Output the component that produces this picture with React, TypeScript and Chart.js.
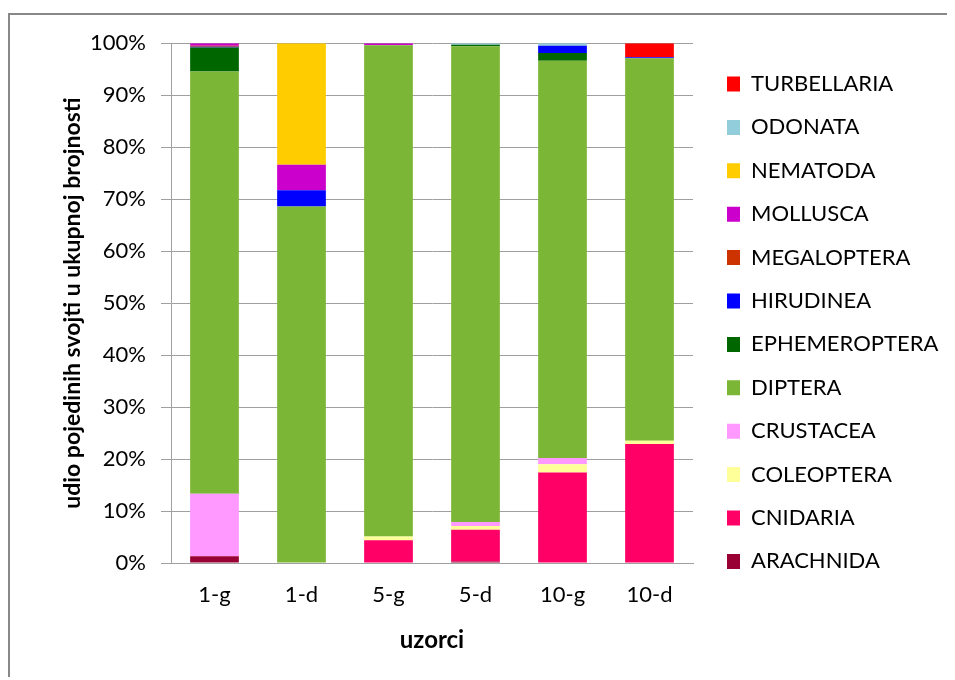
import React, { useEffect, useRef } from "react";
import { Chart, registerables } from "chart.js";

Chart.register(...registerables);

const categories = ["1-g", "1-d", "5-g", "5-d", "10-g", "10-d"];

const arachnida = [1.3, 0, 0, 0.3, 0, 0];
const cnidaria = [0, 0, 4.4, 6.1, 17.4, 22.9];
const coleoptera = [0, 0, 0.7, 0.7, 1.6, 0.6];
const crustacea = [12.0, 0, 0, 0.8, 1.2, 0];
const diptera = [81.25, 68.6, 94.5, 91.5, 76.4, 73.6];
const ephemeroptera = [4.6, 0, 0, 0.3, 1.5, 0];
const hirudinea = [0.15, 3.1, 0, 0, 1.4, 0.2];
const megaloptera = [0.2, 0, 0, 0, 0, 0];
const mollusca = [0.5, 4.9, 0.4, 0, 0, 0];
const nematoda = [0, 23.4, 0, 0, 0, 0];
const odonata = [0, 0, 0, 0.3, 0.5, 0];
const turbellaria = [0, 0, 0, 0, 0, 2.7];

const seriesNames = [
  "ARACHNIDA", "CNIDARIA", "COLEOPTERA", "CRUSTACEA", "DIPTERA", "EPHEMEROPTERA",
  "HIRUDINEA", "MEGALOPTERA", "MOLLUSCA", "NEMATODA", "ODONATA", "TURBELLARIA",
];
const seriesValues = [
  arachnida, cnidaria, coleoptera, crustacea, diptera, ephemeroptera,
  hirudinea, megaloptera, mollusca, nematoda, odonata, turbellaria,
];
const seriesColors = [
  "#990033", "#FF0066", "#FFFF99", "#FF99FF", "#7CB636", "#006600",
  "#0000FF", "#CC3300", "#CC00CC", "#FFCC00", "#92CDDC", "#FF0000",
];

const yTitle = "udio pojedinih svojti u ukupnoj brojnosti";
const xTitle = "uzorci";

const FONT = "Lato, 'Open Sans', sans-serif";
const W = 945;
const H = 655;
const LEGEND_FS = 22;
const LEGEND_PAD = 21.4;
const BOX_W = 13;
const LEGEND_LEFT = 695.6;
const GAP_AXIS = 12.6;

export default function App() {
  const ref = useRef<HTMLCanvasElement | null>(null);

  useEffect(() => {
    if (!ref.current) return;
    document.documentElement.style.overflow = "hidden";
    document.body.style.overflow = "hidden";

    const mctx = document.createElement("canvas").getContext("2d")!;
    mctx.font = `normal ${LEGEND_FS}px ${FONT}`;
    const maxText = Math.max(...seriesNames.map((n) => mctx.measureText(n).width));
    const legendWidth = LEGEND_PAD + BOX_W + LEGEND_FS / 2 + maxText + 10;
    const padR = Math.max(0, W - LEGEND_LEFT - legendWidth);

    const chart = new Chart(ref.current, {
      type: "bar",
      data: {
        labels: categories,
        datasets: seriesNames.map((name, i) => ({
          label: name,
          data: seriesValues[i],
          backgroundColor: seriesColors[i],
          borderWidth: 0,
          categoryPercentage: 1,
          barPercentage: 0.56,
        })),
      },
      options: {
        animation: false,
        responsive: false,
        maintainAspectRatio: false,
        layout: { padding: { top: 28, left: 0, right: padR, bottom: 0 } },
        plugins: {
          tooltip: { enabled: false },
          legend: {
            position: "right",
            align: "start",
            reverse: true,
            maxWidth: legendWidth,
            title: { display: true, text: "", font: { size: 1, lineHeight: 1 }, padding: { top: 0, bottom: 7.6 } },
            labels: {
              boxWidth: BOX_W,
              boxHeight: 15,
              padding: LEGEND_PAD,
              color: "#000",
              font: { family: FONT, size: LEGEND_FS },
            },
          },
        },
        scales: {
          x: {
            stacked: true,
            grid: { display: false, drawTicks: false },
            border: { display: true, color: "#a0a0a0", width: 1 },
            ticks: { color: "#000", font: { family: FONT, size: 22 }, padding: 19 },
            title: {
              display: true,
              text: xTitle,
              color: "#000",
              font: { family: FONT, size: 24, weight: "bold" },
              padding: { top: 0, bottom: 15.6 },
            },
            afterFit: (s: any) => { s.height = 107; },
          },
          y: {
            stacked: true,
            min: 0,
            max: 100,
            grid: { color: "#a0a0a0", lineWidth: 1, tickLength: 10, drawTicks: true },
            border: { display: true, color: "#a0a0a0", width: 1 },
            ticks: {
              stepSize: 10,
              color: "#000",
              padding: 15,
              font: { family: FONT, size: 22 },
              callback: (v: any) => v + "%",
            },
            title: {
              display: true,
              text: yTitle,
              color: "#000",
              font: { family: FONT, size: 23, weight: "bold" },
              padding: { top: 49.2, bottom: 0 },
            },
            afterFit: (s: any) => { s.width = 161; },
          },
          y2: {
            position: "right",
            display: true,
            grid: { display: false, drawTicks: false },
            border: { display: false },
            ticks: { display: false },
            afterFit: (s: any) => { s.width = GAP_AXIS; },
          },
        },
      },
    });
    return () => chart.destroy();
  }, []);

  return (
    <div
      style={{
        position: "relative",
        top: 5,
        width: W,
        height: 667,
        borderLeft: "2px solid #888",
        borderTop: "2px solid #888",
      }}
    >
      <canvas ref={ref} width={W} height={H} style={{ display: "block" }} />
    </div>
  );
}
